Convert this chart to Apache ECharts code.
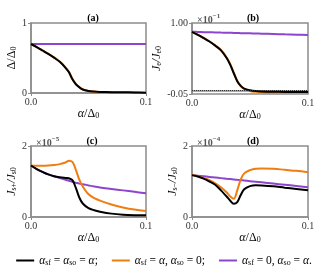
<!DOCTYPE html>
<html><head><meta charset="utf-8">
<script src="https://cdn.jsdelivr.net/npm/echarts@6/dist/echarts.min.js"></script>
<style>html,body{margin:0;padding:0;background:#fff}#c{width:328px;height:280px}</style>
</head><body><div id="c"></div>
<script>
// alpha/Delta0 grid
var alpha = [0, 0.005, 0.01, 0.015, 0.02, 0.025, 0.03, 0.033, 0.036, 0.039, 0.042, 0.045, 0.05, 0.055, 0.06, 0.07, 0.08, 0.09, 0.1];
// (a) Delta/Delta0
var aBlack  = [0.70, 0.655, 0.607, 0.558, 0.505, 0.445, 0.36, 0.295, 0.195, 0.125, 0.082, 0.05, 0.028, 0.02, 0.016, 0.012, 0.01, 0.008, 0.005];
var aOrange = [0.70, 0.656, 0.609, 0.561, 0.509, 0.45, 0.366, 0.302, 0.203, 0.13, 0.085, 0.05, 0.028, 0.019, 0.014, 0.01, 0.008, 0.006, 0.004];
var aPurple = [0.70, 0.70, 0.70, 0.70, 0.70, 0.70, 0.70, 0.70, 0.70, 0.70, 0.70, 0.70, 0.70, 0.70, 0.70, 0.70, 0.70, 0.70, 0.70];
// (b) Je/Je0 (x1e-1)
var bBlack  = [0.87, 0.826, 0.778, 0.726, 0.666, 0.595, 0.478, 0.38, 0.257, 0.14, 0.07, 0.03, 0.005, -0.007, -0.012, -0.017, -0.019, -0.02, -0.02];
var bOrange = [0.87, 0.828, 0.781, 0.73, 0.671, 0.602, 0.487, 0.39, 0.265, 0.145, 0.068, 0.025, -0.005, -0.017, -0.024, -0.028, -0.029, -0.029, -0.028];
var bPurple = [0.87, 0.868, 0.865, 0.863, 0.861, 0.858, 0.856, 0.855, 0.853, 0.852, 0.850, 0.849, 0.847, 0.844, 0.842, 0.837, 0.832, 0.828, 0.823];
// (c) Js+/Js0 (x1e-5)
var cBlack  = [1.45, 1.35, 1.27, 1.2, 1.15, 1.12, 1.10, 1.09, 1.04, 0.82, 0.55, 0.38, 0.25, 0.19, 0.15, 0.095, 0.065, 0.052, 0.048];
var cOrange = [1.45, 1.445, 1.445, 1.45, 1.465, 1.49, 1.535, 1.585, 1.55, 1.33, 1.05, 0.86, 0.64, 0.53, 0.46, 0.35, 0.27, 0.21, 0.17];
var cPurple = [1.45, 1.35, 1.27, 1.2, 1.15, 1.10, 1.05, 1.02, 0.99, 0.965, 0.94, 0.925, 0.89, 0.857, 0.83, 0.79, 0.75, 0.71, 0.667];
// (d) Js-/Js0 (x1e-4)
var dBlack  = [1.18, 1.14, 1.08, 1.0, 0.91, 0.75, 0.57, 0.46, 0.375, 0.42, 0.62, 0.78, 0.87, 0.895, 0.89, 0.865, 0.825, 0.79, 0.755];
var dOrange = [1.18, 1.15, 1.10, 1.04, 0.95, 0.84, 0.69, 0.58, 0.515, 0.75, 1.06, 1.23, 1.32, 1.36, 1.365, 1.36, 1.33, 1.30, 1.26];
var dPurple = [1.18, 1.163, 1.146, 1.129, 1.112, 1.095, 1.078, 1.068, 1.058, 1.047, 1.037, 1.027, 1.01, 0.993, 0.976, 0.942, 0.908, 0.874, 0.84];

var xTicks = [0, 0.1];
var yTicksA = [0, 1];
var yTicksB = [-0.05, 1.00];
var yTicksC = [0, 2];
var yTicksD = [0, 2];
var panelTitles = ['(a)', '(b)', '(c)', '(d)'];

var COLORS = {k: '#000000', o: '#f07d10', p: '#8c45cc'};
var FONT = 'Liberation Serif';
var FRAME = '#8c8c8c';

function pairs(ys) { return alpha.map(function (x, i) { return [x, ys[i]]; }); }

var grids = [
  {left: 31, top: 23, width: 115, height: 70},
  {left: 192, top: 23, width: 116, height: 71},
  {left: 31, top: 146, width: 115, height: 71},
  {left: 192, top: 146, width: 116, height: 71}
];
grids.forEach(function (g) { g.show = true; g.borderColor = FRAME; g.borderWidth = 1.5; g.backgroundColor = 'transparent'; });

var nameRich = {
  n: {fontFamily: FONT, fontSize: 12, color: '#000', verticalAlign: 'bottom', lineHeight: 14},
  i: {fontFamily: FONT, fontSize: 12, fontStyle: 'italic', color: '#000', verticalAlign: 'bottom', lineHeight: 14},
  s: {fontFamily: FONT, fontSize: 8, color: '#000', verticalAlign: 'bottom', lineHeight: 11}
};

var xAxes = grids.map(function (g, k) {
  return {
    type: 'value', gridIndex: k, min: 0, max: 0.1, interval: 0.1,
    name: '{i|α}{n|/Δ}{s|0}', nameLocation: 'middle', nameGap: 11,
    nameTextStyle: {rich: nameRich},
    axisLine: {show: true, lineStyle: {color: FRAME, width: 1.5}},
    axisTick: {show: true, length: 3, lineStyle: {color: FRAME}, customValues: xTicks},
    axisLabel: {fontFamily: FONT, fontSize: 10, color: '#333', margin: 4, customValues: xTicks,
      formatter: function (v) { return v.toFixed(1); }},
    splitLine: {show: false}
  };
});

var yNames = ['{n|Δ/Δ}{s|0}', '{i|J}{s|e}{i|/J}{s|e0}', '{i|J}{s|s+}{i|/J}{s|s0}', '{i|J}{s|s−}{i|/J}{s|s0}'];
var yTickSets = [yTicksA, yTicksB, yTicksC, yTicksD];
var yRanges = [[0, 1], [-0.05, 1.0], [0, 2], [0, 2]];
var yDigits = [0, 2, 0, 0];
var yGaps = [9, 8, 10, 9];
var yAxes = grids.map(function (g, k) {
  return {
    type: 'value', gridIndex: k, min: yRanges[k][0], max: yRanges[k][1],
    name: yNames[k], nameLocation: 'middle', nameGap: yGaps[k], nameRotate: 90,
    nameTextStyle: {rich: nameRich},
    axisLine: {show: true, lineStyle: {color: FRAME, width: 1.5}},
    axisTick: {show: true, length: 3, lineStyle: {color: FRAME}, customValues: yTickSets[k]},
    axisLabel: {fontFamily: FONT, fontSize: 10, color: '#333', margin: 4, customValues: yTickSets[k],
      formatter: function (v) { return v.toFixed(yDigits[k]); }},
    splitLine: {show: false}
  };
});

var panels = [[aBlack, aOrange, aPurple], [bBlack, bOrange, bPurple], [cBlack, cOrange, cPurple], [dBlack, dOrange, dPurple]];
var series = [];
panels.forEach(function (p, k) {
  // draw purple, orange, then black on top
  [['p', p[2]], ['o', p[1]], ['k', p[0]]].forEach(function (s) {
    var ser = {
      name: s[0], type: 'line', xAxisIndex: k, yAxisIndex: k, data: pairs(s[1]),
      showSymbol: false, symbol: 'none', smooth: 0.35, animation: false,
      lineStyle: {color: COLORS[s[0]], width: 2}, itemStyle: {color: COLORS[s[0]]}, z: 3
    };
    if (k === 1 && s[0] === 'k') {
      ser.markLine = {silent: true, symbol: 'none', label: {show: false},
        lineStyle: {color: '#333', type: 'dotted', width: 1}, data: [{yAxis: 0}]};
    }
    series.push(ser);
  });
});

var titles = [
  {left: 88, top: 8},
  {left: 248, top: 8},
  {left: 87, top: 131},
  {left: 248, top: 131}
].map(function (t, i) {
  t.text = panelTitles[i];
  t.textAlign = 'center';
  t.textStyle = {fontFamily: FONT, fontSize: 10, fontWeight: 'bold', color: '#000'};
  return t;
});
var supRich = {
  n: {fontFamily: FONT, fontSize: 10, color: '#555', verticalAlign: 'bottom', lineHeight: 12},
  u: {fontFamily: FONT, fontSize: 7, color: '#555', verticalAlign: 'top', lineHeight: 12}
};
titles.push({text: '{n|×10}{u|−1}', left: 192, top: 8, textStyle: {rich: supRich}});
titles.push({text: '{n|×10}{u|−5}', left: 31, top: 131, textStyle: {rich: supRich}});
titles.push({text: '{n|×10}{u|−4}', left: 192, top: 131, textStyle: {rich: supRich}});

var legRich = {
  n: {fontFamily: FONT, fontSize: 11.5, color: '#000', verticalAlign: 'bottom', lineHeight: 13},
  i: {fontFamily: FONT, fontSize: 11.5, fontStyle: 'italic', color: '#000', verticalAlign: 'bottom', lineHeight: 13},
  s: {fontFamily: FONT, fontSize: 8, color: '#000', verticalAlign: 'bottom', lineHeight: 10}
};
var legendLabels = {
  k: '{i|α}{s|sf}{n| = }{i|α}{s|so}{n| = }{i|α}{n|;}',
  o: '{i|α}{s|sf}{n| = }{i|α}{n|, }{i|α}{s|so}{n| = 0;}',
  p: '{i|α}{s|sf}{n| = 0, }{i|α}{s|so}{n| = }{i|α}{n|.}'
};

var chart = echarts.init(document.getElementById('c'), null, {renderer: 'canvas'});
chart.setOption({
  backgroundColor: '#fff',
  animation: false,
  title: titles,
  grid: grids,
  xAxis: xAxes,
  yAxis: yAxes,
  legend: {
    data: ['k', 'o', 'p'], left: 'center', top: 250, icon: 'rect', itemWidth: 18, itemHeight: 2,
    itemGap: 14, textStyle: {rich: legRich},
    formatter: function (n) { return legendLabels[n]; }
  },
  series: series
});
</script>
</body></html>
